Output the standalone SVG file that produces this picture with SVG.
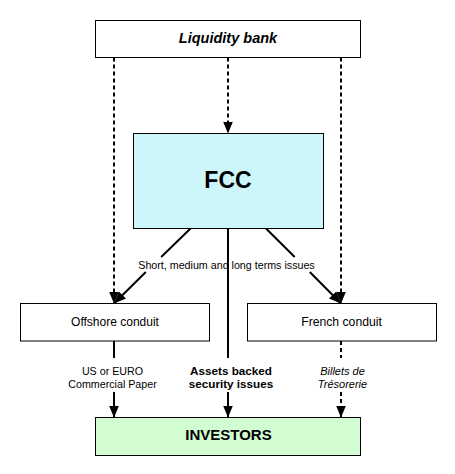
<svg xmlns="http://www.w3.org/2000/svg" width="455" height="474" viewBox="0 0 455 474">
<style>
  .box { fill: #ffffff; stroke: #000000; stroke-width: 1; }
  .fcc { fill: #ccf6fa; }
  .inv { fill: #d2fcd2; }
  text { font-family: "Liberation Sans", Arial, sans-serif; fill: #000000; text-anchor: middle; }
  .solid { fill: none; stroke: #000000; stroke-width: 2; }
  .dash { fill: none; stroke: #000000; stroke-width: 2; stroke-dasharray: 4 3; }
  .lbl { font-size: 10.7px; }
</style>
<defs>
  <marker id="arrow" markerUnits="userSpaceOnUse" markerWidth="14" markerHeight="12" viewBox="0 -6 14 12" refX="12" refY="0" orient="auto">
    <path d="M0,-5 L12,0 L0,5 Z" fill="#000000"/>
  </marker>
</defs>
<rect width="455" height="474" fill="#ffffff"/>

<g id="connectors">
  <path class="dash" d="M228,57.5 V133.5" marker-end="url(#arrow)"/>
  <path class="dash" d="M114,57.5 V303.5" marker-end="url(#arrow)"/>
  <path class="dash" d="M341,57.5 V303.5" marker-end="url(#arrow)"/>
  <path class="solid" d="M190.5,228.5 L161.2,257 M145.8,272 L114,303.5" marker-end="url(#arrow)"/>
  <path class="solid" d="M266,228.5 L294.7,257 M309.8,272 L341,303.5" marker-end="url(#arrow)"/>
  <path class="solid" d="M228,228.5 V358 M228,392 V417.5" marker-end="url(#arrow)"/>
  <path class="solid" d="M114,341 V358 M114,392 V417.5" marker-end="url(#arrow)"/>
  <path class="dash" d="M341,341 V358 M341,392 V417.5" marker-end="url(#arrow)"/>
  <text class="lbl" x="226.5" y="268.5">Short, medium and long terms issues</text>
  <text class="lbl" x="112.5" y="375.3">US or EURO</text>
  <text class="lbl" x="112.5" y="388.3">Commercial Paper</text>
  <text x="231" y="375.3" font-size="11.7" font-weight="bold">Assets backed</text>
  <text x="231" y="388.3" font-size="11.7" font-weight="bold">security issues</text>
  <text x="342.5" y="375.3" font-size="11" font-style="italic">Billets de</text>
  <text x="342.5" y="388.3" font-size="11" font-style="italic">Trésorerie</text>
</g>

<g id="liquidity-bank">
  <rect class="box" x="95.5" y="20.5" width="265" height="37"/>
  <text x="228" y="42.5" font-size="14.5" font-weight="bold" font-style="italic">Liquidity bank</text>
</g>

<g id="fcc">
  <rect class="box fcc" x="133.5" y="133.5" width="190" height="95"/>
  <text x="228" y="188" font-size="23" font-weight="bold">FCC</text>
</g>

<g id="offshore-conduit">
  <rect class="box" x="20.5" y="303.5" width="189" height="37.5"/>
  <text x="115" y="325.5" font-size="12">Offshore conduit</text>
</g>

<g id="french-conduit">
  <rect class="box" x="247.5" y="303.5" width="189" height="37.5"/>
  <text x="341.5" y="325.5" font-size="12.2">French conduit</text>
</g>

<g id="investors">
  <rect class="box inv" x="95.5" y="417.5" width="265" height="38"/>
  <text x="228.5" y="439.5" font-size="15" font-weight="bold">INVESTORS</text>
</g>
</svg>
